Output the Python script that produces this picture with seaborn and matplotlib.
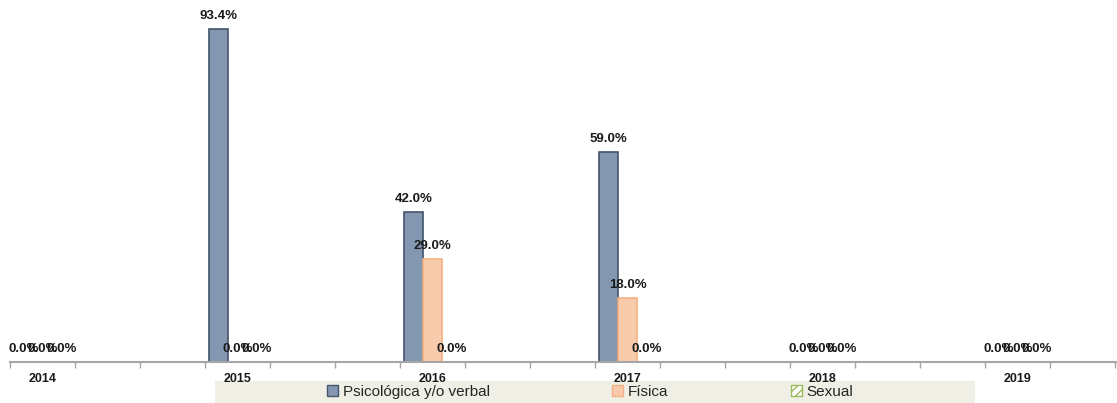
import numpy as np
import pandas as pd
import matplotlib
matplotlib.use('Agg')
import matplotlib.pyplot as plt
from matplotlib.patches import Rectangle, Patch
from matplotlib.ticker import FixedLocator
import seaborn as sns

# data
years = ['2014', '2015', '2016', '2017', '2018', '2019']
series = ['Psicológica y/o verbal', 'Física', 'Sexual']
psico = [0.0, 93.4, 42.0, 59.0, 0.0, 0.0]
fisica = [0.0, 0.0, 29.0, 18.0, 0.0, 0.0]
sexual = [0.0, 0.0, 0.0, 0.0, 0.0, 0.0]

df = pd.DataFrame({'Año': years * 3,
                   'Tipo': [s for s in series for _ in years],
                   'Valor': psico + fisica + sexual})

sns.set_style('white')
plt.rcParams['font.family'] = ['Liberation Sans', 'DejaVu Sans']

fills = ['#8497b0', '#f8cbad', '#ffffff']
edges = ['#44546a', '#f4b183', '#9bbb59']

fig = plt.figure(figsize=(11.17, 4.03), dpi=100)
W, H = 1117, 403
ax = fig.add_axes([10 / W, 41 / H, 1107 / W, 362 / H])

sns.barplot(data=df, x='Año', y='Valor', hue='Tipo', hue_order=series,
            palette=fills, width=0.29, ax=ax, legend=False, saturation=1)

for cont, ec in zip(ax.containers, edges):
    for bar in cont:
        bar.set_edgecolor(ec)
        bar.set_linewidth(1.2)
    ax.bar_label(cont, fmt='%.1f%%', padding=5, fontsize=9.5,
                 fontweight='bold', color='#1a1a1a')

ax.set_xlim(-1 / 6, -1 / 6 + 1107 / 195)
ax.set_ylim(0, 101.5)
ax.set_xlabel('')
ax.set_ylabel('')
ax.set_yticks([])
for s in ['top', 'right', 'left']:
    ax.spines[s].set_visible(False)
ax.spines['bottom'].set_color('#a6a6a6')
ax.spines['bottom'].set_linewidth(1.5)

ax.set_xticks(range(len(years)))
ax.set_xticklabels(years, fontsize=9, fontweight='bold', color='#1a1a1a')
ax.xaxis.set_minor_locator(FixedLocator(-1 / 6 + np.arange(0, 18) / 3))
ax.tick_params(axis='x', which='major', length=0, pad=8)
ax.tick_params(axis='x', which='minor', length=4, width=1,
               color='#a6a6a6', direction='out', bottom=True)

# legend strip
fig.patches.append(Rectangle((215 / W, 0), 760 / W, 22 / H,
                             transform=fig.transFigure,
                             facecolor='#efefe5', edgecolor='none', zorder=-1))
handles = [Patch(facecolor=f, edgecolor=e, hatch=h)
           for f, e, h in zip(fills, edges, ['', '', '////'])]
fig.legend(handles, series, loc='center', bbox_to_anchor=(590 / W, 11 / H),
           ncol=3, frameon=False, fontsize=11, handlelength=0.75,
           handleheight=0.75, handletextpad=0.3, columnspacing=8.0)

fig.savefig('out.png', dpi=100)
